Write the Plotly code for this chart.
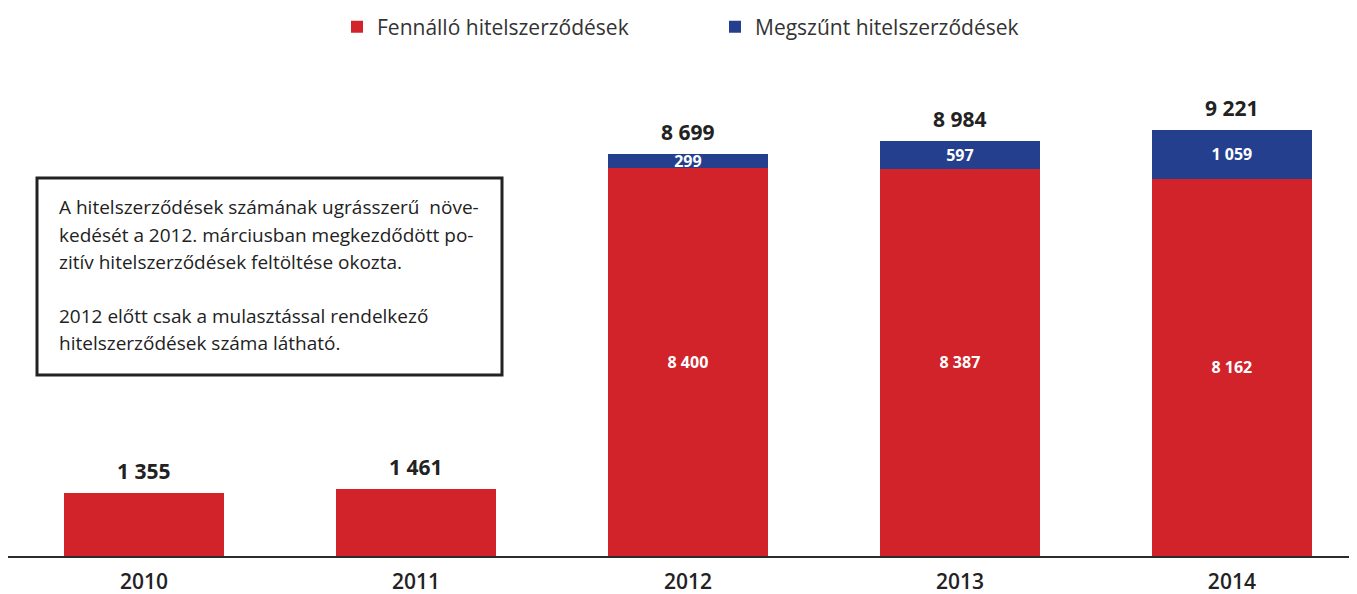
import plotly.graph_objects as go

years = ["2010", "2011", "2012", "2013", "2014"]
active = [1355, 1461, 8400, 8387, 8162]
closed = [None, None, 299, 597, 1059]
totals = [1355, 1461, 8699, 8984, 9221]
series_names = ["Fennálló hitelszerződések", "Megszűnt hitelszerződések"]
note_lines = [
    "A hitelszerződések számának ugrásszerű  növe-",
    "kedését a 2012. márciusban megkezdődött po-",
    "zitív hitelszerződések feltöltése okozta.",
    "",
    "2012 előtt csak a mulasztással rendelkező",
    "hitelszerződések száma látható.",
]

RED = "#D2232A"
BLUE = "#243F8E"
FONT = "Open Sans"

def fmt(v):
    return "" if v is None else f"{v:,}".replace(",", " ")

active_text = [fmt(v) if c is not None else "" for v, c in zip(active, closed)]
closed_text = [fmt(v) for v in closed]

# page body has an 8px margin; the figure is sized to fill the rest
OFF = 8
W, H = 1357 - OFF, 594 - OFF
ML, MR, MT, MB = 0, 0, 92, 38
PW, PH = W - ML - MR, H - MT - MB

fig = go.Figure()
fig.add_trace(go.Bar(
    x=years, y=active, name=series_names[0], marker=dict(color=RED, line=dict(width=0)),
    text=active_text, textposition="inside", insidetextanchor="middle",
    constraintext="none",
    textfont=dict(color="white", size=16, family=FONT, weight="bold"),
    hoverinfo="skip",
))
fig.add_trace(go.Bar(
    x=years, y=closed, name=series_names[1], marker=dict(color=BLUE, line=dict(width=0)),
    text=closed_text, textposition="inside", insidetextanchor="middle",
    constraintext="none",
    textfont=dict(color="white", size=16, family=FONT, weight="bold"),
    hoverinfo="skip",
))

annotations = []
for i, t in enumerate(totals):
    annotations.append(dict(
        x=i, y=t, xref="x", yref="y", text=fmt(t), showarrow=False,
        yanchor="bottom", yshift=6,
        font=dict(family=FONT, size=21, color="#222222", weight="bold"),
    ))

def px2paper_x(px):
    return (px - OFF - ML) / PW

def py2paper_y(py):
    return (MT + PH - (py - OFF)) / PH

line_y = [207, 235, 262, 289, 316, 343]
for txt, ly in zip(note_lines, line_y):
    if not txt:
        continue
    annotations.append(dict(
        x=px2paper_x(57), y=py2paper_y(ly), xref="paper", yref="paper",
        text=txt, showarrow=False, xanchor="left", yanchor="middle",
        font=dict(family=FONT, size=19, color="#222222"),
    ))

shapes = [dict(
    type="rect", xref="paper", yref="paper",
    x0=px2paper_x(37), x1=px2paper_x(502), y0=py2paper_y(375), y1=py2paper_y(178),
    line=dict(color="#222222", width=3), fillcolor="rgba(0,0,0,0)",
)]

fig.update_layout(
    width=W, height=H,
    margin=dict(l=ML, r=MR, t=MT, b=MB, autoexpand=False),
    barmode="stack", bargap=0.41,
    plot_bgcolor="white", paper_bgcolor="white",
    font=dict(family=FONT, color="#222222"),
    showlegend=True,
    legend=dict(
        orientation="h", xref="container", yref="container",
        x=(337 - OFF) / W, y=1 - (27 - OFF) / H, xanchor="left", yanchor="middle",
        font=dict(family=FONT, size=21, color="#333333"),
        entrywidth=333, entrywidthmode="pixels",
        traceorder="normal",
    ),
    xaxis=dict(
        type="category", range=[-0.5, 4.46], automargin=False,
        showline=True, linecolor="#2b2b2b", linewidth=2,
        showgrid=False, ticks="", zeroline=False, ticklabelstandoff=6,
        tickfont=dict(family=FONT, size=21, color="#222222", weight=600),
    ),
    yaxis=dict(
        range=[0, PH / 0.0462], visible=False, showgrid=False, zeroline=False,
        automargin=False,
    ),
    annotations=annotations,
    shapes=shapes,
)

fig.write_html("out.html")
